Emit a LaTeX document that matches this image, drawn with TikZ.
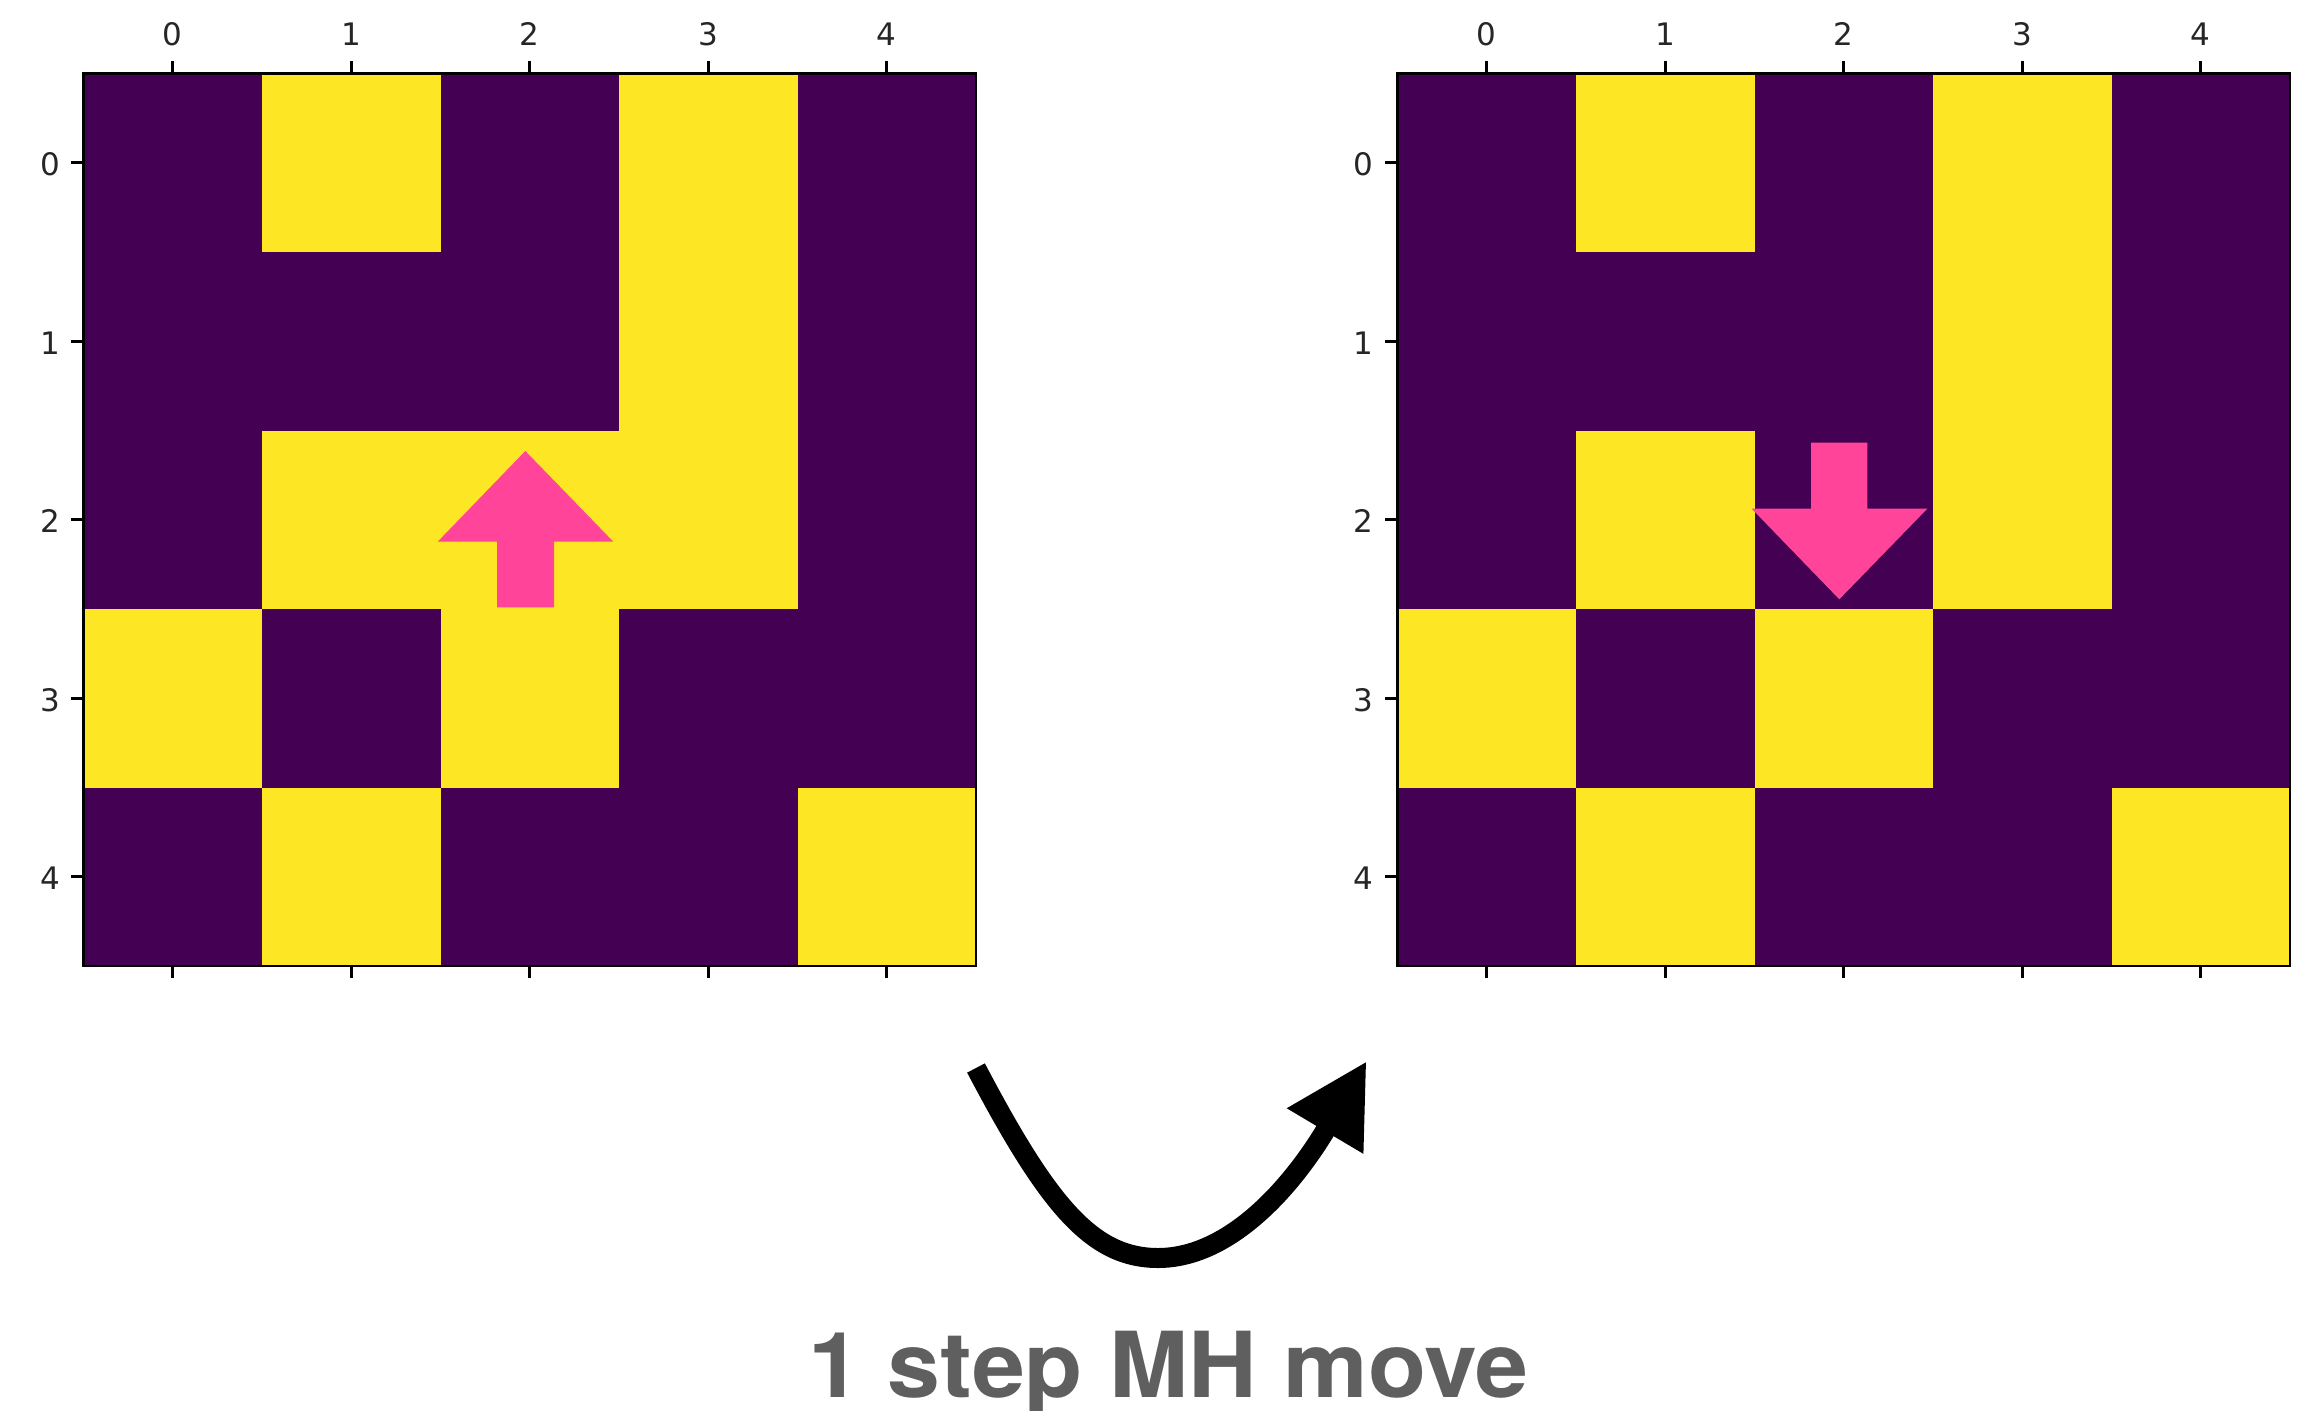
\documentclass[tikz,border=0pt]{standalone}
\usepackage{fontspec}
\setmainfont{DejaVu Sans}
\newfontfamily\herosfont{TeX Gyre Heros}
\usetikzlibrary{arrows.meta}
\definecolor{vpurple}{HTML}{440154}
\definecolor{vyellow}{HTML}{FDE725}
\definecolor{apink}{HTML}{FF4499}
\definecolor{tgray}{HTML}{5F5F5F}
\begin{document}
\begin{tikzpicture}[x=1pt,y=-1pt,
  ticklbl/.style={inner sep=0pt,font=\fontsize{31}{36}\selectfont,text=black!85},
  tickline/.style={line width=2.6pt,black},
  frameline/.style={line width=2.7pt,black},
  pinkarrow/.style={fill=apink,draw=none},
  movearrow/.style={line width=20pt,black,-{Triangle[length=81.5pt,width=83pt]}}]
\useasboundingbox (0,0) rectangle (2311,1411);
\fill[white] (0,0) rectangle (2311,1411);
\def\cs{178.5}
% ---------- left grid ----------
\def\X{83.5}\def\Y{73.5}
\fill[vpurple] (\X,\Y) rectangle +(892.5,892.5);
\foreach \r/\c in {0/1,0/3,1/3,2/1,2/2,2/3,3/0,3/2,4/1,4/4}
  \fill[vyellow] ({\X+\c*\cs},{\Y+\r*\cs}) rectangle +(\cs,\cs);
\draw[frameline] (\X,\Y) rectangle +(892.5,892.5);
\foreach \i in {0,...,4}{
  \draw[tickline] ({\X+(\i+0.5)*\cs},\Y) -- +(0,-12.5);
  \draw[tickline] ({\X+(\i+0.5)*\cs},{\Y+892.5}) -- +(0,12);
  \draw[tickline] (\X,{\Y+(\i+0.5)*\cs}) -- +(-12.5,0);
  \node[ticklbl,anchor=base] (lt\i) at ({\X+(\i+0.5)*\cs},45) {\i};
  \node[ticklbl,anchor=base east] (ll\i) at (60,{\Y+(\i+0.5)*\cs+13}) {\i};
}
\fill[pinkarrow] (525.3,451) -- (613.3,541.7) -- (554,541.7) -- (554,607.3)
  -- (497,607.3) -- (497,541.7) -- (437.7,541.7) -- cycle;
% ---------- right grid ----------
\def\X{1397.5}
\fill[vpurple] (\X,\Y) rectangle +(892.5,892.5);
\foreach \r/\c in {0/1,0/3,1/3,2/1,2/3,3/0,3/2,4/1,4/4}
  \fill[vyellow] ({\X+\c*\cs},{\Y+\r*\cs}) rectangle +(\cs,\cs);
\draw[frameline] (\X,\Y) rectangle +(892.5,892.5);
\foreach \i in {0,...,4}{
  \draw[tickline] ({\X+(\i+0.5)*\cs},\Y) -- +(0,-12.5);
  \draw[tickline] ({\X+(\i+0.5)*\cs},{\Y+892.5}) -- +(0,12);
  \draw[tickline] (\X,{\Y+(\i+0.5)*\cs}) -- +(-12.5,0);
  \node[ticklbl,anchor=base] (rt\i) at ({\X+(\i+0.5)*\cs},45) {\i};
  \node[ticklbl,anchor=base east] (rl\i) at (1373.5,{\Y+(\i+0.5)*\cs+13}) {\i};
}
\fill[pinkarrow] (1811,442.7) -- (1867.3,442.7) -- (1867.3,508.7) -- (1927.3,508.7)
  -- (1839.3,599.3) -- (1751.7,508.7) -- (1811,508.7) -- cycle;
% ---------- move arrow ----------
\coordinate (cstart) at (976,1068);
\coordinate (cbottom) at (1158,1258);
\coordinate (cend) at (1366.7,1061);
\draw[movearrow] (cstart) .. controls (1048,1205) and (1092,1258) .. (cbottom)
  .. controls (1228,1258) and (1290,1190) .. (cend);
\node[inner sep=0pt,anchor=base,text=tgray,font=\herosfont\bfseries\fontsize{91}{100}\selectfont] (caption) at (1168.4,1397) {\scalebox{1.045}[1]{1 step MH move}};
\end{tikzpicture}
\end{document}
